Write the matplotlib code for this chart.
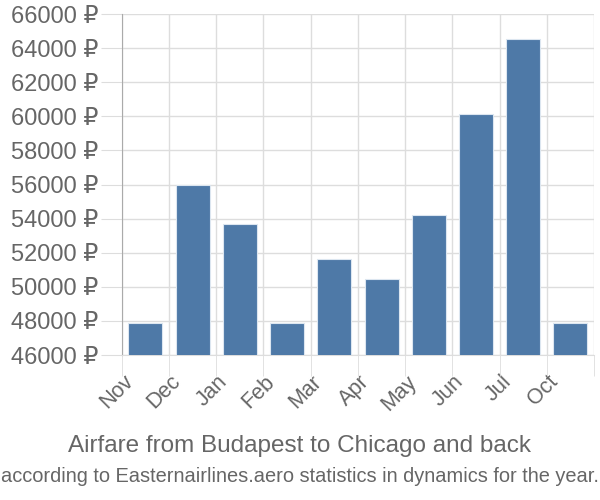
import matplotlib.pyplot as plt
import matplotlib.transforms as mtransforms
import numpy as np

plt.rcParams['font.family'] = ['Liberation Sans', 'DejaVu Sans']

months = ['Nov', 'Dec', 'Jan', 'Feb', 'Mar', 'Apr', 'May', 'Jun', 'Jul', 'Oct']
prices = [47880, 55980, 53680, 47880, 51630, 50460, 54210, 60140, 64530, 47880]
yticks = list(range(46000, 66001, 2000))

fig = plt.figure(figsize=(6, 5), dpi=100)
ax = fig.add_axes([0.203, 0.29, 0.787, 0.682])

x = np.arange(len(months))
ax.bar(x, prices, width=0.72, color='#4e79a7', edgecolor='#dce6f0', linewidth=0.8, zorder=3)

ax.set_xlim(-0.5, len(months) - 0.5)
ax.set_ylim(46000, 66000)

ax.set_yticks(yticks)
ax.set_yticklabels([f'{v} ₽' for v in yticks])
ax.set_xticks(x)
ax.set_xticklabels(months, rotation=45, ha='right', va='center', rotation_mode='anchor')
ax.set_xticks(np.arange(-0.5, len(months)), minor=True)

ax.tick_params(axis='y', length=15, color='#dddddd', labelsize=17, labelcolor='#666666', pad=2)
ax.tick_params(axis='x', which='major', length=0, labelsize=15.5, labelcolor='#666666', pad=17)
ax.tick_params(axis='x', which='minor', length=15, color='#dddddd')

# nudge the rotated month labels left, like the reference
offset = mtransforms.ScaledTranslation(-11 / 72, 0, fig.dpi_scale_trans)
for lab in ax.get_xticklabels():
    lab.set_transform(lab.get_transform() + offset)

ax.grid(axis='y', color='#dddddd', linewidth=1, zorder=0)
ax.grid(axis='x', which='minor', color='#dddddd', linewidth=1, zorder=0)

for s in ['top', 'right']:
    ax.spines[s].set_visible(False)
ax.spines['left'].set_color('#aaaaaa')
ax.spines['bottom'].set_color('#dddddd')

fig.text(0.5, 0.108, 'Airfare from Budapest to Chicago and back', ha='center', va='center',
         fontsize=17.5, color='#666666')
fig.text(0.5, 0.048, 'according to Easternairlines.aero statistics in dynamics for the year.',
         ha='center', va='center', fontsize=14.4, color='#666666')

fig.savefig('out.png')
